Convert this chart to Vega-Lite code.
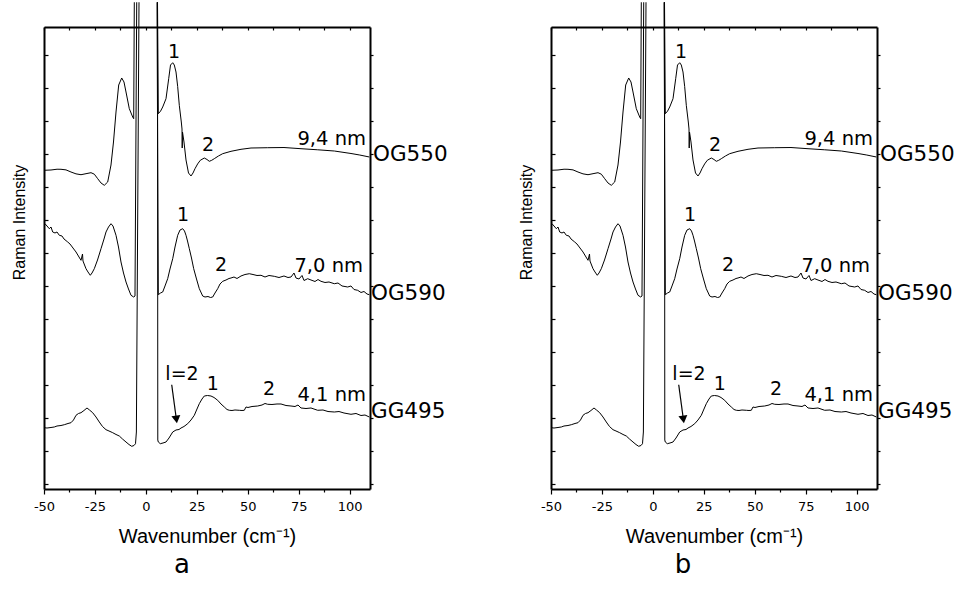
{
"$schema": "https://vega.github.io/schema/vega-lite/v6.json",
"background": "white",
"padding": {"left": 11, "top": 0, "right": 0, "bottom": 0},
"spacing": 181,
"bounds": "flush",
"config": {
  "view": {"stroke": null},
  "font": "DejaVu Sans",
  "axis": {"grid": false, "domainColor": "black", "domainWidth": 2, "tickColor": "black", "tickWidth": 1.2, "labelFont": "DejaVu Sans", "labelFontSize": 13, "labelColor": "black", "titleColor": "black", "titleFontWeight": "normal", "minExtent": 0, "labelFlush": false, "labelOverlap": false}
},
"datasets": {
"traces": [
{"seg":"550L","x":-49.85,"y":9.658},{"seg":"550L","x":-46.56,"y":9.667},{"seg":"550L","x":-43.6,"y":9.69},{"seg":"550L","x":-41.66,"y":9.688},{"seg":"550L","x":-39.2,"y":9.67},{"seg":"550L","x":-36.75,"y":9.606},{"seg":"550L","x":-34.3,"y":9.55},{"seg":"550L","x":-31.84,"y":9.524},{"seg":"550L","x":-28.9,"y":9.561},{"seg":"550L","x":-26.93,"y":9.585},{"seg":"550L","x":-25.3,"y":9.54},{"seg":"550L","x":-23.64,"y":9.403},{"seg":"550L","x":-22.02,"y":9.273},{"seg":"550L","x":-20.4,"y":9.203},{"seg":"550L","x":-18.74,"y":9.303},{"seg":"550L","x":-17.12,"y":9.818},{"seg":"550L","x":-15.89,"y":10.515},{"seg":"550L","x":-14.66,"y":11.424},{"seg":"550L","x":-13.34,"y":12.242},{"seg":"550L","x":-11.86,"y":12.455},{"seg":"550L","x":-10.74,"y":12.333},{"seg":"550L","x":-9.75,"y":12.03},{"seg":"550L","x":-8.13,"y":11.524},{"seg":"550L","x":-6.47,"y":11.273},{"seg":"550L","x":-5.98,"y":11.221},{"seg":"550L","x":-5.68,"y":14.75},
{"seg":"550R","x":5.71,"y":14.75},{"seg":"550R","x":6.1,"y":11.373},{"seg":"550R","x":7.2,"y":11.45},{"seg":"550R","x":8.26,"y":11.576},{"seg":"550R","x":9.88,"y":11.827},{"seg":"550R","x":11.2,"y":12.433},{"seg":"550R","x":12.09,"y":12.848},{"seg":"550R","x":13.17,"y":12.918},{"seg":"550R","x":13.95,"y":12.848},{"seg":"550R","x":14.79,"y":12.636},{"seg":"550R","x":15.6,"y":12.2},{"seg":"550R","x":16.41,"y":11.627},{"seg":"550R","x":17.39,"y":11.121},{"seg":"550R","x":17.73,"y":10.909},{"seg":"550R","x":17.83,"y":10.333},{"seg":"550R","x":17.98,"y":10.818},{"seg":"550R","x":18.71,"y":10.515},{"seg":"550R","x":19.7,"y":9.97},{"seg":"550R","x":20.92,"y":9.576},{"seg":"550R","x":22.15,"y":9.485},{"seg":"550R","x":23.13,"y":9.576},{"seg":"550R","x":24.11,"y":9.706},{"seg":"550R","x":25.4,"y":9.85},{"seg":"550R","x":26.71,"y":9.961},{"seg":"550R","x":28.68,"y":10.03},{"seg":"550R","x":30.0,"y":9.985},{"seg":"550R","x":31.13,"y":9.93},{"seg":"550R","x":32.3,"y":9.96},{"seg":"550R","x":33.58,"y":10.009},{"seg":"550R","x":35.6,"y":10.09},{"seg":"550R","x":37.71,"y":10.161},{"seg":"550R","x":41.78,"y":10.233},{"seg":"550R","x":46.69,"y":10.294},{"seg":"550R","x":51.6,"y":10.333},{"seg":"550R","x":59.79,"y":10.342},{"seg":"550R","x":67.79,"y":10.348},{"seg":"550R","x":76.14,"y":10.312},{"seg":"550R","x":84.33,"y":10.279},{"seg":"550R","x":92.48,"y":10.242},{"seg":"550R","x":100.67,"y":10.167},{"seg":"550R","x":105.0,"y":10.12},{"seg":"550R","x":109.66,"y":10.061},
{"seg":"590L","x":-49.51,"y":8.039},{"seg":"590L","x":-48.53,"y":7.97},{"seg":"590L","x":-47.4,"y":7.888},{"seg":"590L","x":-46.56,"y":7.939},{"seg":"590L","x":-45.73,"y":7.788},{"seg":"590L","x":-44.6,"y":7.758},{"seg":"590L","x":-43.62,"y":7.788},{"seg":"590L","x":-42.49,"y":7.688},{"seg":"590L","x":-41.17,"y":7.667},{"seg":"590L","x":-40.18,"y":7.576},{"seg":"590L","x":-38.37,"y":7.485},{"seg":"590L","x":-37.24,"y":7.424},{"seg":"590L","x":-35.77,"y":7.303},{"seg":"590L","x":-34.29,"y":7.182},{"seg":"590L","x":-32.82,"y":7.03},{"seg":"590L","x":-31.84,"y":6.93},{"seg":"590L","x":-31.1,"y":7.121},{"seg":"590L","x":-30.86,"y":6.909},{"seg":"590L","x":-29.39,"y":6.676},{"seg":"590L","x":-28.41,"y":6.576},{"seg":"590L","x":-27.28,"y":6.476},{"seg":"590L","x":-26.44,"y":6.545},{"seg":"590L","x":-25.31,"y":6.676},{"seg":"590L","x":-23.74,"y":6.939},{"seg":"590L","x":-22.02,"y":7.282},{"seg":"590L","x":-20.55,"y":7.576},{"seg":"590L","x":-19.57,"y":7.788},{"seg":"590L","x":-18.34,"y":7.939},{"seg":"590L","x":-17.12,"y":8.039},{"seg":"590L","x":-16.14,"y":7.97},{"seg":"590L","x":-14.66,"y":7.688},{"seg":"590L","x":-13.44,"y":7.333},{"seg":"590L","x":-12.21,"y":6.879},{"seg":"590L","x":-10.98,"y":6.545},{"seg":"590L","x":-9.75,"y":6.273},{"seg":"590L","x":-8.53,"y":6.061},{"seg":"590L","x":-7.3,"y":5.87},{"seg":"590L","x":-5.98,"y":5.818},{"seg":"590L","x":-5.34,"y":5.848},{"seg":"590L","x":-4.5,"y":14.75},
{"seg":"590R","x":5.46,"y":14.75},{"seg":"590R","x":6.1,"y":5.888},{"seg":"590R","x":7.18,"y":5.939},{"seg":"590R","x":8.26,"y":5.97},{"seg":"590R","x":9.39,"y":6.152},{"seg":"590R","x":10.71,"y":6.373},{"seg":"590R","x":11.84,"y":6.667},{"seg":"590R","x":13.17,"y":6.979},{"seg":"590R","x":14.3,"y":7.333},{"seg":"590R","x":15.62,"y":7.688},{"seg":"590R","x":16.75,"y":7.848},{"seg":"590R","x":18.08,"y":7.888},{"seg":"590R","x":18.96,"y":7.818},{"seg":"590R","x":19.7,"y":7.688},{"seg":"590R","x":20.43,"y":7.515},{"seg":"590R","x":21.32,"y":7.282},{"seg":"590R","x":22.39,"y":7.0},{"seg":"590R","x":23.47,"y":6.676},{"seg":"590R","x":24.85,"y":6.364},{"seg":"590R","x":26.22,"y":6.07},{"seg":"590R","x":27.89,"y":5.848},{"seg":"590R","x":29.02,"y":5.818},{"seg":"590R","x":30.49,"y":5.833},{"seg":"590R","x":31.72,"y":5.803},{"seg":"590R","x":32.8,"y":5.818},{"seg":"590R","x":33.92,"y":5.939},{"seg":"590R","x":35.25,"y":6.07},{"seg":"590R","x":36.38,"y":6.212},{"seg":"590R","x":37.71,"y":6.294},{"seg":"590R","x":39.33,"y":6.333},{"seg":"590R","x":40.8,"y":6.379},{"seg":"590R","x":41.78,"y":6.394},{"seg":"590R","x":43.25,"y":6.424},{"seg":"590R","x":44.73,"y":6.379},{"seg":"590R","x":46.69,"y":6.455},{"seg":"590R","x":48.65,"y":6.5},{"seg":"590R","x":50.76,"y":6.524},{"seg":"590R","x":52.58,"y":6.5},{"seg":"590R","x":54.54,"y":6.47},{"seg":"590R","x":56.5,"y":6.476},{"seg":"590R","x":58.47,"y":6.424},{"seg":"590R","x":60.43,"y":6.47},{"seg":"590R","x":63.03,"y":6.445},{"seg":"590R","x":65.34,"y":6.409},{"seg":"590R","x":67.79,"y":6.455},{"seg":"590R","x":69.76,"y":6.409},{"seg":"590R","x":71.23,"y":6.424},{"seg":"590R","x":72.7,"y":6.545},{"seg":"590R","x":73.68,"y":6.394},{"seg":"590R","x":75.15,"y":6.364},{"seg":"590R","x":76.63,"y":6.47},{"seg":"590R","x":77.61,"y":6.318},{"seg":"590R","x":79.42,"y":6.373},{"seg":"590R","x":81.04,"y":6.333},{"seg":"590R","x":83.0,"y":6.288},{"seg":"590R","x":84.48,"y":6.348},{"seg":"590R","x":85.95,"y":6.294},{"seg":"590R","x":87.91,"y":6.258},{"seg":"590R","x":89.88,"y":6.273},{"seg":"590R","x":92.48,"y":6.221},{"seg":"590R","x":94.3,"y":6.242},{"seg":"590R","x":96.26,"y":6.152},{"seg":"590R","x":99.06,"y":6.121},{"seg":"590R","x":100.67,"y":6.152},{"seg":"590R","x":102.15,"y":6.045},{"seg":"590R","x":103.96,"y":6.021},{"seg":"590R","x":105.58,"y":5.955},{"seg":"590R","x":107.06,"y":5.985},{"seg":"590R","x":108.53,"y":5.909},{"seg":"590R","x":109.66,"y":5.888},
{"seg":"495L","x":-49.85,"y":1.858},{"seg":"495L","x":-48.53,"y":1.848},{"seg":"495L","x":-46.56,"y":1.864},{"seg":"495L","x":-44.94,"y":1.879},{"seg":"495L","x":-43.62,"y":1.909},{"seg":"495L","x":-41.66,"y":1.924},{"seg":"495L","x":-40.04,"y":1.948},{"seg":"495L","x":-38.22,"y":1.985},{"seg":"495L","x":-36.75,"y":2.009},{"seg":"495L","x":-35.52,"y":2.091},{"seg":"495L","x":-34.29,"y":2.233},{"seg":"495L","x":-33.07,"y":2.288},{"seg":"495L","x":-31.84,"y":2.312},{"seg":"495L","x":-30.37,"y":2.379},{"seg":"495L","x":-28.9,"y":2.455},{"seg":"495L","x":-27.67,"y":2.394},{"seg":"495L","x":-26.1,"y":2.312},{"seg":"495L","x":-24.48,"y":2.182},{"seg":"495L","x":-22.86,"y":2.03},{"seg":"495L","x":-21.29,"y":1.894},{"seg":"495L","x":-19.57,"y":1.797},{"seg":"495L","x":-18.1,"y":1.758},{"seg":"495L","x":-16.28,"y":1.706},{"seg":"495L","x":-14.66,"y":1.652},{"seg":"495L","x":-13.04,"y":1.606},{"seg":"495L","x":-11.47,"y":1.515},{"seg":"495L","x":-9.75,"y":1.424},{"seg":"495L","x":-8.28,"y":1.348},{"seg":"495L","x":-6.96,"y":1.294},{"seg":"495L","x":-5.83,"y":1.318},{"seg":"495L","x":-5.09,"y":1.373},{"seg":"495L","x":-4.66,"y":1.727},{"seg":"495L","x":-3.37,"y":14.75},
{"seg":"495R","x":5.71,"y":14.75},{"seg":"495R","x":5.85,"y":1.485},{"seg":"495R","x":6.1,"y":1.424},{"seg":"495R","x":7.08,"y":1.373},{"seg":"495R","x":8.41,"y":1.394},{"seg":"495R","x":9.88,"y":1.424},{"seg":"495R","x":11.35,"y":1.545},{"seg":"495R","x":13.17,"y":1.727},{"seg":"495R","x":14.79,"y":1.788},{"seg":"495R","x":16.26,"y":1.803},{"seg":"495R","x":17.24,"y":1.848},{"seg":"495R","x":18.71,"y":1.894},{"seg":"495R","x":20.53,"y":1.979},{"seg":"495R","x":22.15,"y":2.091},{"seg":"495R","x":23.77,"y":2.233},{"seg":"495R","x":25.09,"y":2.424},{"seg":"495R","x":26.22,"y":2.585},{"seg":"495R","x":27.55,"y":2.727},{"seg":"495R","x":28.68,"y":2.818},{"seg":"495R","x":30.25,"y":2.833},{"seg":"495R","x":31.96,"y":2.818},{"seg":"495R","x":33.44,"y":2.773},{"seg":"495R","x":35.25,"y":2.688},{"seg":"495R","x":36.87,"y":2.576},{"seg":"495R","x":38.49,"y":2.485},{"seg":"495R","x":39.82,"y":2.409},{"seg":"495R","x":40.95,"y":2.385},{"seg":"495R","x":42.27,"y":2.379},{"seg":"495R","x":43.74,"y":2.394},{"seg":"495R","x":45.85,"y":2.385},{"seg":"495R","x":47.18,"y":2.379},{"seg":"495R","x":48.31,"y":2.385},{"seg":"495R","x":49.14,"y":2.485},{"seg":"495R","x":50.12,"y":2.47},{"seg":"495R","x":52.09,"y":2.5},{"seg":"495R","x":54.88,"y":2.515},{"seg":"495R","x":57.0,"y":2.545},{"seg":"495R","x":58.47,"y":2.591},{"seg":"495R","x":59.79,"y":2.567},{"seg":"495R","x":61.9,"y":2.561},{"seg":"495R","x":64.36,"y":2.576},{"seg":"495R","x":66.32,"y":2.576},{"seg":"495R","x":68.77,"y":2.53},{"seg":"495R","x":71.23,"y":2.515},{"seg":"495R","x":73.19,"y":2.5},{"seg":"495R","x":74.66,"y":2.545},{"seg":"495R","x":76.14,"y":2.455},{"seg":"495R","x":78.59,"y":2.439},{"seg":"495R","x":81.04,"y":2.455},{"seg":"495R","x":84.33,"y":2.385},{"seg":"495R","x":86.93,"y":2.394},{"seg":"495R","x":89.39,"y":2.348},{"seg":"495R","x":92.48,"y":2.333},{"seg":"495R","x":94.79,"y":2.348},{"seg":"495R","x":97.24,"y":2.303},{"seg":"495R","x":100.67,"y":2.264},{"seg":"495R","x":103.13,"y":2.288},{"seg":"495R","x":105.58,"y":2.227},{"seg":"495R","x":107.55,"y":2.242},{"seg":"495R","x":109.66,"y":2.182}
],
"labels": [
{"kind":"peak","text":"1","x":13.8,"y":13.24},
{"kind":"peak","text":"2","x":30.49,"y":10.42},
{"kind":"size","text":"9,4 nm","x":108.04,"y":10.61},
{"kind":"filter","text":"OG550","x":111.47,"y":10.12},
{"kind":"peak","text":"1","x":18.22,"y":8.3},
{"kind":"peak","text":"2","x":36.87,"y":6.79},
{"kind":"size","text":"7,0 nm","x":106.57,"y":6.76},
{"kind":"filter","text":"OG590","x":110.49,"y":5.91},
{"kind":"peak","text":"l=2","x":17.73,"y":3.48},
{"kind":"peak","text":"1","x":32.8,"y":3.19},
{"kind":"peak","text":"2","x":60.43,"y":3.03},
{"kind":"size","text":"4,1 nm","x":108.04,"y":2.85},
{"kind":"filter","text":"GG495","x":110.49,"y":2.33}
],
"arrow": [{"x":12.68,"y":3.16,"x2":14.98,"y2":2.106}]
},
"hconcat": [
{
"width": 326, "height": 462,
"title": {"text": "a", "orient": "bottom", "anchor": "middle", "dx": -25, "offset": 6, "fontSize": 26, "font": "DejaVu Sans", "fontWeight": "normal", "color": "black"},
"layer": [
{"data": {"name": "traces"},
 "mark": {"type": "line", "stroke": "black", "strokeWidth": 1},
 "encoding": {
  "x": {"field": "x", "type": "quantitative", "scale": {"domain": [-50, 110], "nice": false, "zero": false},
        "axis": {"orient": "bottom", "values": [-50,-37.5,-25,-12.5,0,12.5,25,37.5,50,62.5,75,87.5,100],
                 "labelExpr": "datum.value % 25 == 0 ? (datum.value < 0 ? '-' + abs(datum.value) : '' + datum.value) : ''",
                 "tickSize": {"condition": {"test": "datum.value % 25 == 0", "value": 5}, "value": 3},
                 "labelPadding": 6, "title": "Wavenumber (cm⁻¹)", "titleFont": "Liberation Sans", "titleFontSize": 20, "titlePadding": 13}},
  "y": {"field": "y", "type": "quantitative", "scale": {"domain": [0, 14], "nice": false, "zero": false},
        "axis": {"orient": "left", "values": [0.16,1.16,2.16,3.16,4.16,5.16,6.16,7.16,8.16,9.16,10.16,11.16,12.16,13.16],
                 "labels": false, "tickSize": -4, "title": "Raman Intensity", "titleFont": "Liberation Sans", "titleFontSize": 16, "titlePadding": 16, "titleY": 195}},
  "detail": {"field": "seg"}
 }},
{"data": {"values": [{"x": 0, "y": 0}]},
 "mark": {"type": "point", "opacity": 0},
 "encoding": {
  "x": {"field": "x", "type": "quantitative", "scale": {"domain": [-50, 110], "nice": false, "zero": false},
        "axis": {"orient": "top", "values": [-50,-37.5,-25,-12.5,0,12.5,25,37.5,50,62.5,75,87.5,100], "labels": false, "tickSize": -3, "title": null}},
  "y": {"field": "y", "type": "quantitative", "scale": {"domain": [0, 14], "nice": false, "zero": false},
        "axis": {"orient": "right", "values": [0.16,1.16,2.16,3.16,4.16,5.16,6.16,7.16,8.16,9.16,10.16,11.16,12.16,13.16], "labels": false, "tickSize": 3, "title": null}}
 }},
{"data": {"name": "arrow"},
 "mark": {"type": "rule", "stroke": "black", "strokeWidth": 1.2},
 "encoding": {
  "x": {"field": "x", "type": "quantitative", "axis": null, "scale": {"domain": [-50, 110], "nice": false, "zero": false}},
  "y": {"field": "y", "type": "quantitative", "axis": null, "scale": {"domain": [0, 14], "nice": false, "zero": false}},
  "x2": {"field": "x2"}, "y2": {"field": "y2"}
 }},
{"data": {"name": "arrow"},
 "mark": {"type": "point", "shape": "triangle-down", "filled": true, "color": "black", "opacity": 1, "size": 80, "angle": 352},
 "encoding": {
  "x": {"field": "x2", "type": "quantitative", "axis": null, "scale": {"domain": [-50, 110], "nice": false, "zero": false}},
  "y": {"field": "y2", "type": "quantitative", "axis": null, "scale": {"domain": [0, 14], "nice": false, "zero": false}}
 }},
{"data": {"name": "labels"},
 "transform": [{"filter": "datum.kind == 'peak'"}],
 "mark": {"type": "text", "align": "center", "baseline": "middle", "fontSize": 19, "font": "DejaVu Sans", "color": "black"},
 "encoding": {
  "x": {"field": "x", "type": "quantitative", "axis": null, "scale": {"domain": [-50, 110], "nice": false, "zero": false}},
  "y": {"field": "y", "type": "quantitative", "axis": null, "scale": {"domain": [0, 14], "nice": false, "zero": false}},
  "text": {"field": "text"}
 }},
{"data": {"name": "labels"},
 "transform": [{"filter": "datum.kind == 'size'"}],
 "mark": {"type": "text", "align": "right", "baseline": "middle", "fontSize": 19.5, "font": "DejaVu Sans", "color": "black"},
 "encoding": {
  "x": {"field": "x", "type": "quantitative", "axis": null, "scale": {"domain": [-50, 110], "nice": false, "zero": false}},
  "y": {"field": "y", "type": "quantitative", "axis": null, "scale": {"domain": [0, 14], "nice": false, "zero": false}},
  "text": {"field": "text"}
 }},
{"data": {"name": "labels"},
 "transform": [{"filter": "datum.kind == 'filter'"}],
 "mark": {"type": "text", "align": "left", "baseline": "middle", "fontSize": 21.5, "font": "DejaVu Sans", "color": "black"},
 "encoding": {
  "x": {"field": "x", "type": "quantitative", "axis": null, "scale": {"domain": [-50, 110], "nice": false, "zero": false}},
  "y": {"field": "y", "type": "quantitative", "axis": null, "scale": {"domain": [0, 14], "nice": false, "zero": false}},
  "text": {"field": "text"}
 }}
],
"resolve": {"axis": {"x": "independent", "y": "independent"}}
},
{
"width": 326, "height": 462,
"title": {"text": "b", "orient": "bottom", "anchor": "middle", "dx": -31, "offset": 6, "fontSize": 26, "font": "DejaVu Sans", "fontWeight": "normal", "color": "black"},
"layer": [
{"data": {"name": "traces"},
 "mark": {"type": "line", "stroke": "black", "strokeWidth": 1},
 "encoding": {
  "x": {"field": "x", "type": "quantitative", "scale": {"domain": [-50, 110], "nice": false, "zero": false},
        "axis": {"orient": "bottom", "values": [-50,-37.5,-25,-12.5,0,12.5,25,37.5,50,62.5,75,87.5,100],
                 "labelExpr": "datum.value % 25 == 0 ? (datum.value < 0 ? '-' + abs(datum.value) : '' + datum.value) : ''",
                 "tickSize": {"condition": {"test": "datum.value % 25 == 0", "value": 5}, "value": 3},
                 "labelPadding": 6, "title": "Wavenumber (cm⁻¹)", "titleFont": "Liberation Sans", "titleFontSize": 20, "titlePadding": 13}},
  "y": {"field": "y", "type": "quantitative", "scale": {"domain": [0, 14], "nice": false, "zero": false},
        "axis": {"orient": "left", "values": [0.16,1.16,2.16,3.16,4.16,5.16,6.16,7.16,8.16,9.16,10.16,11.16,12.16,13.16],
                 "labels": false, "tickSize": -4, "title": "Raman Intensity", "titleFont": "Liberation Sans", "titleFontSize": 16, "titlePadding": 16, "titleY": 195}},
  "detail": {"field": "seg"}
 }},
{"data": {"values": [{"x": 0, "y": 0}]},
 "mark": {"type": "point", "opacity": 0},
 "encoding": {
  "x": {"field": "x", "type": "quantitative", "scale": {"domain": [-50, 110], "nice": false, "zero": false},
        "axis": {"orient": "top", "values": [-50,-37.5,-25,-12.5,0,12.5,25,37.5,50,62.5,75,87.5,100], "labels": false, "tickSize": -3, "title": null}},
  "y": {"field": "y", "type": "quantitative", "scale": {"domain": [0, 14], "nice": false, "zero": false},
        "axis": {"orient": "right", "values": [0.16,1.16,2.16,3.16,4.16,5.16,6.16,7.16,8.16,9.16,10.16,11.16,12.16,13.16], "labels": false, "tickSize": 3, "title": null}}
 }},
{"data": {"name": "arrow"},
 "mark": {"type": "rule", "stroke": "black", "strokeWidth": 1.2},
 "encoding": {
  "x": {"field": "x", "type": "quantitative", "axis": null, "scale": {"domain": [-50, 110], "nice": false, "zero": false}},
  "y": {"field": "y", "type": "quantitative", "axis": null, "scale": {"domain": [0, 14], "nice": false, "zero": false}},
  "x2": {"field": "x2"}, "y2": {"field": "y2"}
 }},
{"data": {"name": "arrow"},
 "mark": {"type": "point", "shape": "triangle-down", "filled": true, "color": "black", "opacity": 1, "size": 80, "angle": 352},
 "encoding": {
  "x": {"field": "x2", "type": "quantitative", "axis": null, "scale": {"domain": [-50, 110], "nice": false, "zero": false}},
  "y": {"field": "y2", "type": "quantitative", "axis": null, "scale": {"domain": [0, 14], "nice": false, "zero": false}}
 }},
{"data": {"name": "labels"},
 "transform": [{"filter": "datum.kind == 'peak'"}],
 "mark": {"type": "text", "align": "center", "baseline": "middle", "fontSize": 19, "font": "DejaVu Sans", "color": "black"},
 "encoding": {
  "x": {"field": "x", "type": "quantitative", "axis": null, "scale": {"domain": [-50, 110], "nice": false, "zero": false}},
  "y": {"field": "y", "type": "quantitative", "axis": null, "scale": {"domain": [0, 14], "nice": false, "zero": false}},
  "text": {"field": "text"}
 }},
{"data": {"name": "labels"},
 "transform": [{"filter": "datum.kind == 'size'"}],
 "mark": {"type": "text", "align": "right", "baseline": "middle", "fontSize": 19.5, "font": "DejaVu Sans", "color": "black"},
 "encoding": {
  "x": {"field": "x", "type": "quantitative", "axis": null, "scale": {"domain": [-50, 110], "nice": false, "zero": false}},
  "y": {"field": "y", "type": "quantitative", "axis": null, "scale": {"domain": [0, 14], "nice": false, "zero": false}},
  "text": {"field": "text"}
 }},
{"data": {"name": "labels"},
 "transform": [{"filter": "datum.kind == 'filter'"}],
 "mark": {"type": "text", "align": "left", "baseline": "middle", "fontSize": 21.5, "font": "DejaVu Sans", "color": "black"},
 "encoding": {
  "x": {"field": "x", "type": "quantitative", "axis": null, "scale": {"domain": [-50, 110], "nice": false, "zero": false}},
  "y": {"field": "y", "type": "quantitative", "axis": null, "scale": {"domain": [0, 14], "nice": false, "zero": false}},
  "text": {"field": "text"}
 }}
],
"resolve": {"axis": {"x": "independent", "y": "independent"}}
}
]
}
